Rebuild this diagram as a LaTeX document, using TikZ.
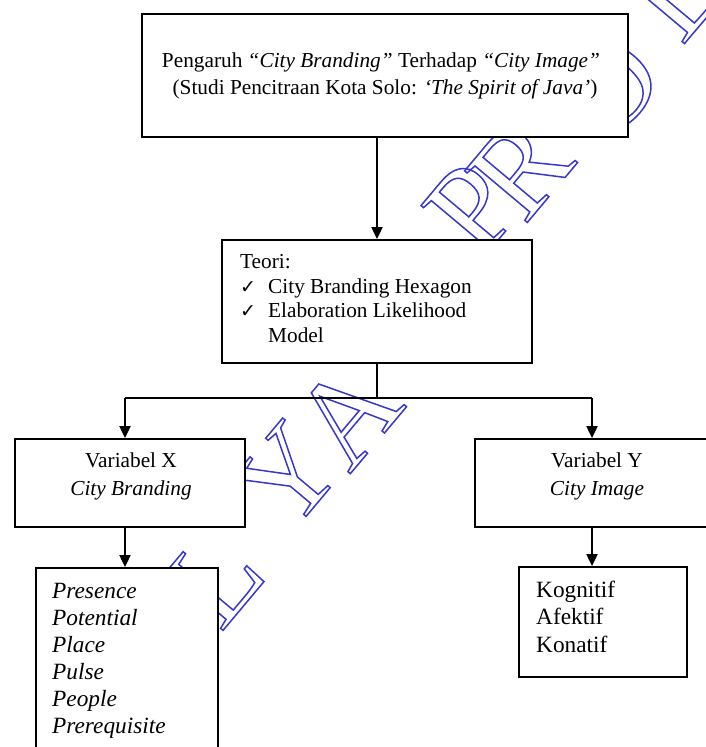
\documentclass[tikz,border=0pt]{standalone}
\usepackage{fontspec}
\setmainfont{Liberation Serif}
\newfontfamily\symfont{DejaVu Sans}
\usetikzlibrary{arrows.meta}

% outlined (stroked, unfilled) glyphs for the diagonal stamp
\newcommand{\strokedtext}[1]{\special{pdf:literal direct 1 Tr 1.5 w}#1\special{pdf:literal direct 0 Tr}}
\newcommand{\fsmain}{\fontsize{21.3}{25}\selectfont}
\newcommand{\fslist}{\fontsize{23.3}{27}\selectfont}

\definecolor{stampblue}{RGB}{55,55,205}

\tikzset{
  box/.style={draw=black, fill=white, line width=1.8pt, inner sep=0pt},
  conn/.style={draw=black, line width=1.9pt},
  arr/.style={-{Triangle[length=12pt,width=11pt]}},
  txtA/.style={font=\fsmain, inner sep=0pt},
  txtB/.style={font=\fslist, inner sep=0pt},
  chk/.style={font=\symfont\fontsize{19}{19}\selectfont, inner sep=0pt},
  stamp/.style={font=\fontsize{124}{124}\selectfont, text=stampblue, inner sep=0pt, rotate=50},
}

\begin{document}
\begin{tikzpicture}[x=1pt, y=-1pt]
\useasboundingbox (0,0) rectangle (706,747);
\clip (0,0) rectangle (706,747);

% diagonal stamp lettering, underneath everything else
\node[stamp] (sL) at (214,578) {\strokedtext{L}};
\node[stamp] (sY) at (287,476) {\strokedtext{Y}};
\node[stamp] (sA) at (347,414) {\strokedtext{A}};
\node[stamp] (sP) at (472,208) {\strokedtext{P}};
\node[stamp] (sR) at (520,168) {\strokedtext{R}};
\node[stamp] (sO) at (608,86) {\strokedtext{O}};
\node[stamp] (sD) at (680,-14) {\strokedtext{D}};

% boxes
\node[box, minimum width=486pt, minimum height=123pt] (top) at (385,75.5) {};
\node[box, minimum width=310pt, minimum height=123pt] (teori) at (377,301.5) {};
\node[box, minimum width=230pt, minimum height=88pt] (varx) at (130,483) {};
\node[box, minimum width=244pt, minimum height=88pt] (vary) at (597,483) {};
\node[box, minimum width=182pt, minimum height=197pt] (dimx) at (127,666.5) {};
\node[box, minimum width=168pt, minimum height=110pt] (dimy) at (603,622) {};

% connectors
\coordinate (jn) at (377,398);
\coordinate (jl) at (125,398);
\coordinate (jr) at (592,398);
\draw[conn, arr] (teori.north |- top.south) -- (teori.north);
\draw[conn] (teori.south) -- (jn);
\draw[conn] (jl) -- (jr);
\draw[conn, arr] (jl) -- (jl |- varx.north);
\draw[conn, arr] (jr) -- (jr |- vary.north);
\draw[conn, arr] (jl |- varx.south) -- (jl |- dimx.north);
\draw[conn, arr] (jr |- vary.south) -- (jr |- dimy.north);

% title box
\node[txtA, anchor=base] (t1) at (381,67) {Pengaruh \textit{“City Branding”} Terhadap \textit{“City Image”}};
\node[txtA, anchor=base] (t2) at (385,94) {(Studi Pencitraan Kota Solo: \textit{‘The Spirit of Java’})};

% theory box
\node[txtA, anchor=base west] (th) at (240,268) {Teori:};
\node[chk, anchor=base west] (c1) at (240,293) {✓};
\node[chk, anchor=base west] (c2) at (240,317) {✓};
\node[txtA, anchor=base west] (i1) at (268,293) {City Branding Hexagon};
\node[txtA, anchor=base west] (i2) at (268,317) {Elaboration Likelihood};
\node[txtA, anchor=base west] (i3) at (268,342) {Model};

% variable boxes
\node[txtA, anchor=base] (x1) at (131,467) {Variabel X};
\node[txtA, anchor=base] (x2) at (131,495) {\textit{City Branding}};
\node[txtA, anchor=base] (y1) at (597,467) {Variabel Y};
\node[txtA, anchor=base] (y2) at (597,495) {\textit{City Image}};

% dimension lists
\foreach \w [count=\i] in {Presence,Potential,Place,Pulse,People,Prerequisite}
  \node[txtB, anchor=base west] (dx\i) at (52,571+27*\i) {\textit{\w}};
\foreach \w [count=\i] in {Kognitif,Afektif,Konatif}
  \node[txtB, anchor=base west] (dy\i) at (536,570.2+27.3*\i) {\w};
\end{tikzpicture}
\end{document}
